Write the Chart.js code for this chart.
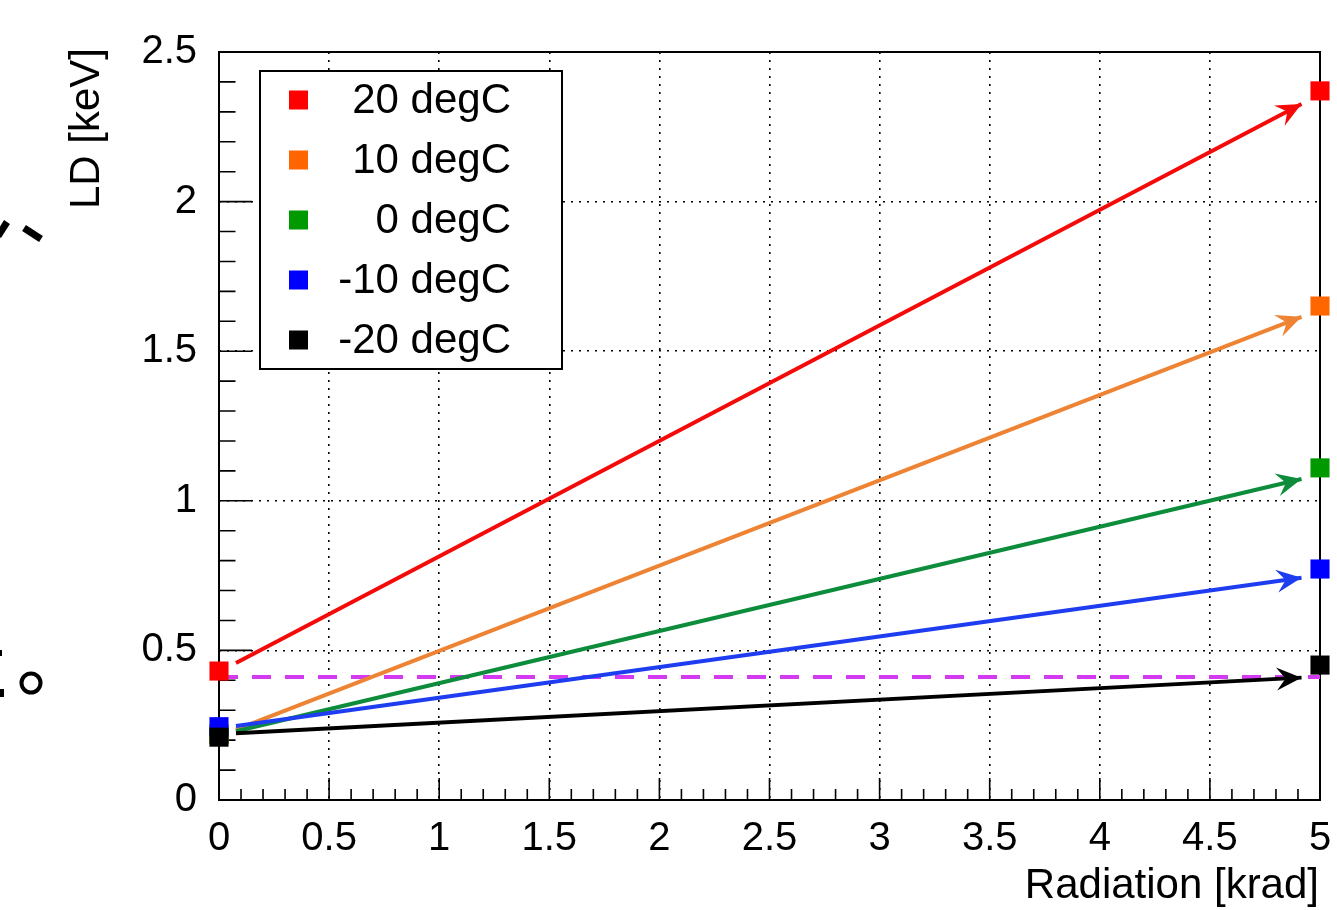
<!DOCTYPE html>
<html>
<head>
<meta charset="utf-8">
<script src="https://cdn.jsdelivr.net/npm/chart.js@4/dist/chart.umd.min.js"></script>
<style>
  html, body { margin: 0; padding: 0; background: #ffffff; }
  #wrap { width: 1337px; height: 910px; }
</style>
</head>
<body>
<div id="wrap"><canvas id="c" width="1337" height="910"></canvas></div>
<script>
// ---- data ----
const seriesLabels   = ['20 degC', '10 degC', '0 degC', '-10 degC', '-20 degC'];
const radiationX     = [0, 5];                       // krad, marker positions
const ldAt0          = [0.431, 0.22, 0.22, 0.245, 0.21];   // keV at 0 krad
const ldAt5          = [2.37, 1.651, 1.11, 0.772, 0.451];  // keV at 5 krad
const arrowX         = [0.077, 4.916];               // krad, arrow start / tip
const arrowStartLD   = [0.458, 0.235, 0.23, 0.247, 0.223];
const arrowEndLD     = [2.326, 1.615, 1.073, 0.743, 0.409];
const thresholdX     = [0, 5];
const thresholdLD    = [0.411, 0.411];
const xTickLabels    = ['0', '0.5', '1', '1.5', '2', '2.5', '3', '3.5', '4', '4.5', '5'];
const yTickLabels    = ['0', '0.5', '1', '1.5', '2', '2.5'];
const xTitle = 'Radiation [krad]';
const yTitle = 'LD [keV]';

// ---- styles ----
const markerColors = ['#ff0000', '#ff6600', '#009900', '#0000ff', '#000000'];
const lineColors   = ['#f50a0a', '#ee8433', '#0d8c3c', '#1e3df0', '#000000'];
const FONT = '"Liberation Sans", Arial, Helvetica, sans-serif';
const FS_TICK = 40;
const FS_TEXT = 42;

const datasets = [];
datasets.push({
  type: 'line', label: 'threshold',
  data: thresholdX.map((x, i) => ({ x: x, y: thresholdLD[i] })),
  borderColor: '#d43af2', borderWidth: 4, borderDash: [19, 14],
  pointRadius: 0, fill: false, order: 100, isArrow: false
});
seriesLabels.forEach((lab, i) => {
  datasets.push({
    type: 'line', label: lab + ' trend',
    data: [{ x: arrowX[0], y: arrowStartLD[i] }, { x: arrowX[1], y: arrowEndLD[i] }],
    borderColor: lineColors[i], borderWidth: 4, pointRadius: 0, fill: false,
    order: 60 - i, isArrow: true
  });
});
seriesLabels.forEach((lab, i) => {
  datasets.push({
    type: 'scatter', label: lab,
    data: [{ x: radiationX[0], y: ldAt0[i] }, { x: radiationX[1], y: ldAt5[i] }],
    backgroundColor: markerColors[i], borderColor: markerColors[i], borderWidth: 0,
    pointStyle: 'rect', pointRadius: 13.5, showLine: false, clip: false,
    order: 20 - i, isArrow: false
  });
});

const arrowPlugin = {
  id: 'arrowHeads',
  afterDatasetDraw(chart, args) {
    const ds = chart.data.datasets[args.index];
    if (!ds.isArrow) return;
    const pts = args.meta.data;
    const a = pts[0], b = pts[1];
    const ang = Math.atan2(b.y - a.y, b.x - a.x);
    const ctx = chart.ctx;
    const L = 25, W = 11.5, N = 16;
    ctx.save();
    ctx.translate(b.x, b.y);
    ctx.rotate(ang);
    ctx.beginPath();
    ctx.moveTo(0, 0);
    ctx.lineTo(-L, -W);
    ctx.lineTo(-N, 0);
    ctx.lineTo(-L, W);
    ctx.closePath();
    ctx.fillStyle = ds.borderColor;
    ctx.fill();
    ctx.restore();
  }
};

const framePlugin = {
  id: 'frame',
  beforeDatasetsDraw(chart) {
    const ctx = chart.ctx, ca = chart.chartArea;
    const xs = chart.scales.x, ys = chart.scales.y;
    ctx.save();
    ctx.strokeStyle = '#000';
    ctx.lineWidth = 2;
    ctx.strokeRect(ca.left, ca.top, ca.right - ca.left, ca.bottom - ca.top);
    ctx.lineWidth = 1.6;
    ctx.beginPath();
    for (let v = 0; v <= 50; v++) {
      const px = xs.getPixelForValue(v / 10);
      const len = (v % 5 === 0) ? 22 : 11;
      ctx.moveTo(px, ca.bottom); ctx.lineTo(px, ca.bottom - len);
    }
    for (let v = 0; v <= 25; v++) {
      const py = ys.getPixelForValue(v / 10);
      const len = (v % 5 === 0) ? 33 : 16.5;
      ctx.moveTo(ca.left, py); ctx.lineTo(ca.left + len, py);
    }
    ctx.stroke();
    ctx.restore();
  },
  afterDraw(chart) {
    const ctx = chart.ctx, ca = chart.chartArea;
    ctx.save();
    ctx.fillStyle = '#000';
    ctx.font = FS_TEXT + 'px ' + FONT;
    ctx.textAlign = 'right';
    ctx.textBaseline = 'alphabetic';
    ctx.fillText(xTitle, ca.right - 1, 898);
    ctx.translate(99, ca.top);
    ctx.rotate(-Math.PI / 2);
    ctx.textAlign = 'right';
    ctx.fillText(yTitle, 4, 0);
    ctx.restore();

    // legend
    ctx.save();
    ctx.fillStyle = '#fff';
    ctx.fillRect(260, 71, 302, 298);
    ctx.strokeStyle = '#000';
    ctx.lineWidth = 2;
    ctx.strokeRect(260, 71, 302, 298);
    ctx.font = FS_TEXT + 'px ' + FONT;
    ctx.textAlign = 'right';
    ctx.textBaseline = 'middle';
    seriesLabels.forEach((lab, i) => {
      const cy = 100 + i * 60;
      ctx.fillStyle = markerColors[i];
      ctx.fillRect(289, cy - 9.5, 19, 19);
      ctx.fillStyle = '#000';
      ctx.fillText(lab, 511, cy + 1);
    });
    ctx.restore();

    // fragments of neighbouring panel text at the left edge
    ctx.save();
    ctx.fillStyle = '#000';
    ctx.strokeStyle = '#000';
    ctx.lineCap = 'butt';
    ctx.lineWidth = 7;
    ctx.beginPath(); ctx.moveTo(-2, 236); ctx.lineTo(7, 222); ctx.stroke();
    ctx.beginPath(); ctx.moveTo(24, 228); ctx.lineTo(41, 239); ctx.stroke();
    ctx.fillRect(0, 689, 4, 8);
    ctx.fillRect(0, 650, 2, 6);
    ctx.lineWidth = 4;
    ctx.beginPath(); ctx.arc(31, 683, 9.5, 0, Math.PI * 2); ctx.stroke();
    ctx.restore();
  }
};

new Chart(document.getElementById('c'), {
  type: 'scatter',
  data: { datasets: datasets },
  options: {
    responsive: false,
    animation: false,
    events: [],
    layout: { padding: { top: 52, right: 17, left: 0, bottom: 0 } },
    plugins: { legend: { display: false }, tooltip: { enabled: false } },
    scales: {
      x: {
        type: 'linear', min: 0, max: 5,
        afterFit(scale) { scale.height = 110; scale.paddingLeft = 0; scale.paddingRight = 0; },
        afterBuildTicks(scale) { scale.ticks = xTickLabels.map(t => ({ value: parseFloat(t) })); },
        ticks: {
          callback: (v, i) => xTickLabels[i],
          font: { family: FONT, size: FS_TICK }, color: '#000', padding: 15, maxRotation: 0, autoSkip: false
        },
        grid: { color: '#000', lineWidth: 1.6, drawTicks: false },
        border: { display: false, dash: [2, 6] }
      },
      y: {
        type: 'linear', min: 0, max: 2.5,
        afterFit(scale) { scale.width = 219; scale.paddingTop = 0; scale.paddingBottom = 0; },
        afterBuildTicks(scale) { scale.ticks = yTickLabels.map(t => ({ value: parseFloat(t) })); },
        ticks: {
          callback: (v, i) => yTickLabels[i],
          font: { family: FONT, size: FS_TICK }, color: '#000', padding: 22, autoSkip: false
        },
        grid: { color: '#000', lineWidth: 1.6, drawTicks: false },
        border: { display: false, dash: [2, 6] }
      }
    }
  },
  plugins: [arrowPlugin, framePlugin]
});
</script>
</body>
</html>
